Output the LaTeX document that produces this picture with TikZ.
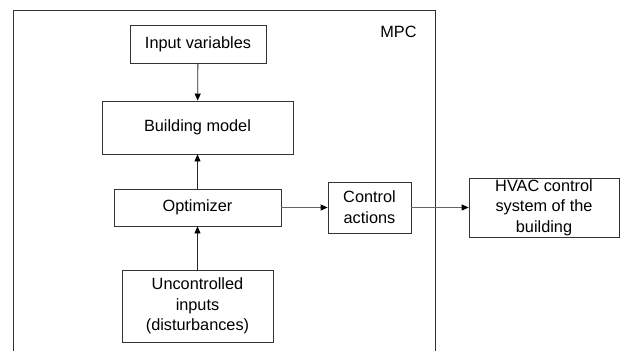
\documentclass[tikz,border=0pt]{standalone}
\usepackage{fontspec}
\setmainfont{Liberation Sans}
\usetikzlibrary{arrows.meta}
\begin{document}
\begin{tikzpicture}[x=1pt,y=-1pt,
  box/.style={draw=black!80,line width=0.8pt,inner sep=0pt,align=center,
    font=\fontsize{16.3}{20.7}\selectfont},
  conn/.style={draw=black!85,line width=0.8pt,-{Triangle[length=7pt,width=6pt,color=black]}},
  hconn/.style={draw=black!60,line width=0.9pt,-{Triangle[length=7pt,width=6pt,color=black]}}]
\useasboundingbox (0,0) rectangle (623,351);
\draw[black!80,line width=0.8pt] (13,351) -- (13,10) -- (435,10) -- (435,351);
\node[font=\fontsize{16.3}{20}\selectfont] (mpc) at (398.5,32) {MPC};
\node[box,minimum width=136pt,minimum height=38pt] (inp) at (198,44) {Input variables};
\node[box,minimum width=191pt,minimum height=53pt] (bm) at (197.5,127.5) {Building model};
\node[box,minimum width=167pt,minimum height=37pt] (opt) at (197.5,207.5) {Optimizer};
\node[box,minimum width=151pt,minimum height=72pt] (unc) at (197.5,306) {Uncontrolled\\inputs\\(disturbances)};
\node[box,minimum width=83pt,minimum height=51pt] (ca) at (369.5,207.5) {Control\\actions};
\node[box,minimum width=150pt,minimum height=59pt] (hvac) at (544,207.5) {HVAC control\\system of the\\building};
\draw[conn] (inp) -- (bm);
\draw[conn] (opt) -- (bm);
\draw[conn] (unc) -- (opt);
\draw[hconn] (opt) -- (ca);
\draw[hconn] (ca) -- (hvac);
\end{tikzpicture}
\end{document}
